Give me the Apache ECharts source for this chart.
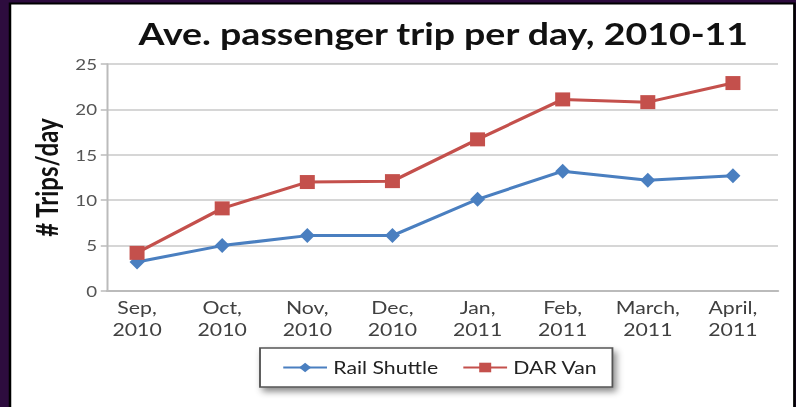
<!DOCTYPE html>
<html>
<head>
<meta charset="utf-8">
<script src="https://cdn.jsdelivr.net/npm/echarts@6/dist/echarts.min.js"></script>
<style>
html,body{margin:0;padding:0;background:#2d0c3e;overflow:hidden;}
#c{width:637px;height:407px;transform:scaleX(1.25);transform-origin:0 0;}
</style>
</head>
<body>
<div id="c"></div>
<script>
var titleText = 'Ave. passenger trip per day, 2010-11';
var yAxisName = '# Trips/day';
var categories = ['Sep,\n2010','Oct,\n2010','Nov,\n2010','Dec,\n2010','Jan,\n2011','Feb,\n2011','March,\n2011','April,\n2011'];
var railShuttle = [3.2, 5.0, 6.1, 6.1, 10.1, 13.2, 12.2, 12.7];
var darVan = [4.2, 9.1, 12.0, 12.1, 16.7, 21.1, 20.8, 22.9];
var yMin = 0, yMax = 25, yStep = 5;

var chart = echarts.init(document.getElementById('c'), null, {renderer:'svg'});
var font = 'Lato, "Open Sans", sans-serif';
chart.setOption({
  backgroundColor: '#2d0c3e',
  animation: false,
  textStyle: {fontFamily: font},
  graphic: [{
    type: 'rect', z: -10,
    shape: {x: 8, y: 3.5, width: 627.5, height: 410},
    style: {fill: '#ffffff', stroke: '#000000', lineWidth: 2}
  }],
  title: {
    text: titleText, left: 349.6, top: 13, textAlign: 'center',
    textStyle: {fontFamily: font, fontWeight: 'bold', fontSize: 30, color: '#111111'}
  },
  legend: {
    left: 208, top: 348,
    padding: [11, 12, 11, 17.6],
    itemWidth: 35, itemHeight: 12, itemGap: 19,
    backgroundColor: '#ffffff',
    borderColor: '#555555', borderWidth: 1.5,
    shadowBlur: 6, shadowOffsetX: 2.5, shadowOffsetY: 4, shadowColor: 'rgba(0,0,0,0.45)',
    textStyle: {fontFamily: font, fontSize: 17, color: '#222222'},
    data: ['Rail Shuttle', 'DAR Van']
  },
  grid: [
    {left: 75.6, right: 16.6, top: 64, bottom: 116},
    {left: 85.6, right: 14.6, top: 64, bottom: 116}
  ],
  xAxis: [
    {
      type: 'category', gridIndex: 0, data: categories, boundaryGap: true,
      axisLine: {show: false}, axisTick: {show: false},
      axisLabel: {fontFamily: font, fontSize: 17, lineHeight: 22, color: '#404040', margin: 5, interval: 0}
    },
    {
      type: 'value', gridIndex: 1, min: 0, max: 1,
      axisLine: {show: true, lineStyle: {color: '#bbbbbb', width: 2}},
      axisTick: {show: false}, axisLabel: {show: false}, splitLine: {show: false}
    }
  ],
  yAxis: [
    {type: 'value', gridIndex: 0, min: yMin, max: yMax, interval: yStep, show: false},
    {
      type: 'value', gridIndex: 1, min: yMin, max: yMax, interval: yStep,
      name: yAxisName, nameLocation: 'middle', nameRotate: 90, nameGap: 35,
      nameTextStyle: {fontFamily: font, fontWeight: 'bold', fontSize: 24, color: '#111111'},
      axisLine: {show: true, lineStyle: {color: '#bbbbbb', width: 1.6}},
      axisTick: {show: true, length: 5, lineStyle: {color: '#bbbbbb', width: 1.5}},
      axisLabel: {fontFamily: font, fontSize: 15, color: '#555555', margin: 8},
      splitLine: {show: true, lineStyle: {color: '#c8c8c8', width: 1.5}}
    }
  ],
  series: [
    {
      name: 'Rail Shuttle', type: 'line', xAxisIndex: 0, yAxisIndex: 0,
      data: railShuttle, symbol: 'diamond', symbolSize: [12, 15],
      itemStyle: {color: '#4a7fc0'}, lineStyle: {color: '#4a7fc0', width: 3}
    },
    {
      name: 'DAR Van', type: 'line', xAxisIndex: 0, yAxisIndex: 0,
      data: darVan, symbol: 'rect', symbolSize: [12, 14],
      itemStyle: {color: '#c4504c'}, lineStyle: {color: '#c4504c', width: 3}
    }
  ]
});
</script>
</body>
</html>
